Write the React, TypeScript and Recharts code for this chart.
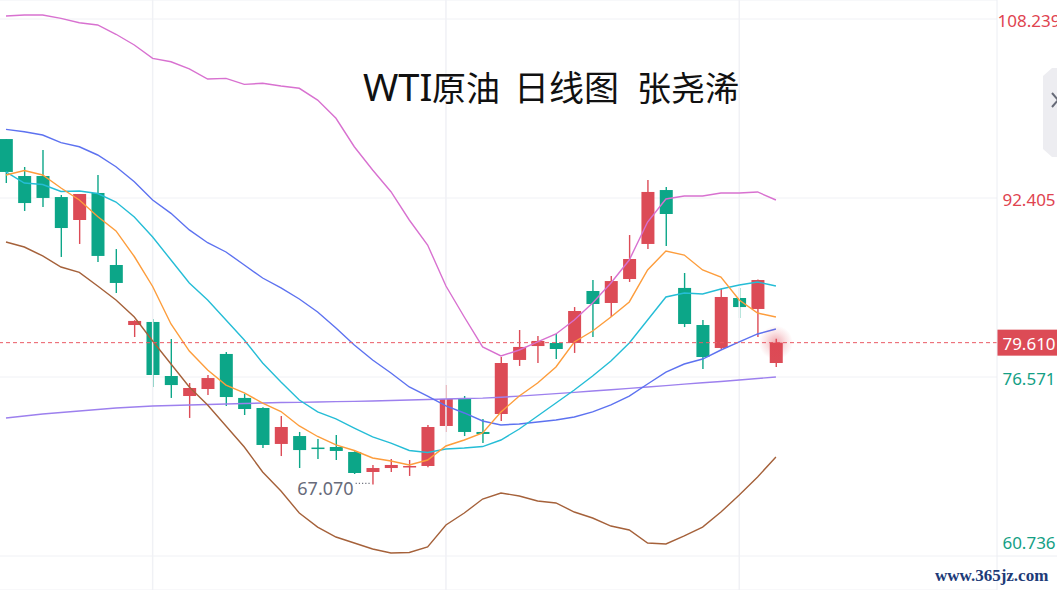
import React from 'react';
import {
  ComposedChart,
  Bar,
  Line,
  XAxis,
  YAxis,
  CartesianGrid,
  ReferenceLine,
  ReferenceDot,
} from 'recharts';

// ---- data ----
const days = [0, 1, 2, 3, 4, 5, 6, 7, 8, 9, 10, 11, 12, 13, 14, 15, 16, 17, 18, 19, 20, 21, 22, 23, 24, 25, 26, 27, 28, 29, 30, 31, 32, 33, 34, 35, 36, 37, 38, 39, 40, 41, 42];

const opens = [97.62, 94.35, 94.35, 92.49, 90.46, 92.85, 86.48, 81.17, 81.44, 76.66, 74.89, 75.51, 78.61, 74.72, 73.83, 70.65, 71.35, 70.33, 70.38, 69.94, 68.17, 68.52, 68.61, 68.7, 72.24, 74.63, 71.71, 73.3, 78.08, 79.31, 79.58, 79.58, 84.18, 83.12, 85.24, 88.34, 93.11, 84.45, 81.17, 79.14, 83.56, 82.59, 77.81];
const highs = [97.62, 95.15, 96.65, 92.67, 92.76, 94.44, 87.89, 81.6, 81.7, 79.93, 76.04, 76.75, 78.78, 75.07, 73.9, 73.12, 71.71, 71.09, 71.44, 70.0, 68.79, 69.32, 69.23, 72.33, 75.86, 74.89, 72.86, 78.34, 80.73, 80.2, 80.38, 82.76, 85.15, 85.51, 89.13, 94.0, 93.38, 85.77, 81.61, 84.36, 84.45, 85.2, 79.95];
const lows = [93.73, 91.26, 91.61, 87.19, 88.34, 86.74, 84.0, 80.11, 75.69, 74.72, 72.95, 74.98, 74.01, 73.21, 70.29, 69.58, 68.52, 69.32, 69.23, 67.99, 67.07, 68.17, 67.82, 68.6, 71.71, 71.35, 70.73, 72.68, 77.55, 77.81, 78.16, 78.7, 80.11, 81.88, 84.98, 87.89, 88.16, 80.99, 77.28, 79.05, 81.79, 80.11, 77.46];
const closes = [94.71, 91.96, 92.41, 89.75, 92.76, 87.28, 84.89, 81.53, 76.75, 75.86, 75.6, 76.48, 74.8, 73.74, 70.56, 72.15, 70.11, 70.25, 70.03, 68.08, 68.52, 68.79, 68.7, 72.15, 74.63, 71.71, 71.53, 77.81, 79.23, 79.76, 79.05, 82.41, 83.03, 85.06, 87.01, 92.94, 90.99, 81.26, 78.34, 83.65, 82.76, 85.15, 79.61];

const ma5 = [94.44, 94.84, 94.44, 93.29, 92.23, 90.77, 89.49, 87.23, 84.58, 81.26, 78.87, 77.19, 75.86, 75.16, 74.27, 73.52, 72.24, 71.31, 70.56, 70.07, 69.41, 69.14, 68.79, 69.23, 70.47, 71.0, 71.62, 73.48, 74.89, 76.04, 77.46, 79.67, 80.64, 81.88, 83.21, 86.04, 87.72, 87.36, 86.04, 85.42, 83.38, 82.23, 81.88];
const ma10 = [94.71, 93.73, 93.6, 92.98, 93.03, 92.8, 92.05, 90.73, 88.96, 86.92, 84.89, 83.38, 81.61, 79.85, 77.81, 76.13, 74.54, 73.48, 72.86, 72.06, 71.27, 70.73, 70.07, 69.89, 70.2, 70.29, 70.42, 71.0, 71.97, 73.12, 74.27, 75.42, 76.66, 77.99, 79.58, 81.61, 83.65, 84.0, 83.91, 84.36, 84.71, 84.98, 84.62];
const bollMid = [98.48, 98.27, 97.98, 97.3, 96.94, 96.21, 95.17, 93.85, 92.23, 91.05, 89.58, 88.45, 87.63, 86.48, 85.33, 84.45, 83.47, 82.32, 80.91, 79.4, 78.08, 76.93, 75.69, 74.89, 74.01, 73.39, 72.68, 72.33, 72.42, 72.59, 72.77, 73.03, 73.48, 74.1, 74.89, 75.95, 77.01, 77.72, 78.16, 78.96, 79.67, 80.38, 80.82];
const bollUp = [108.5, 108.59, 108.59, 108.3, 107.91, 107.71, 106.89, 105.94, 104.76, 104.46, 103.82, 102.93, 102.99, 102.46, 102.55, 102.31, 102.11, 101.07, 99.46, 96.94, 94.88, 92.96, 90.46, 88.25, 84.62, 81.88, 79.23, 78.43, 78.96, 79.67, 80.38, 81.61, 83.12, 84.89, 86.92, 90.28, 92.32, 92.58, 92.58, 92.85, 92.85, 92.94, 92.23];
const bollDn = [88.51, 88.07, 87.28, 86.3, 85.82, 84.62, 83.38, 81.88, 79.76, 77.72, 75.69, 74.1, 72.24, 70.38, 68.17, 66.49, 64.54, 63.3, 62.42, 61.89, 61.36, 61.0, 61.05, 61.54, 63.48, 64.54, 65.78, 66.31, 66.05, 65.6, 65.43, 64.63, 64.1, 63.39, 63.04, 61.89, 61.8, 62.51, 63.3, 64.63, 66.13, 67.73, 69.5];
const maLong = [72.95, 73.12, 73.3, 73.43, 73.56, 73.7, 73.83, 73.92, 74.01, 74.05, 74.1, 74.14, 74.19, 74.23, 74.27, 74.31, 74.33, 74.36, 74.39, 74.42, 74.45, 74.49, 74.54, 74.58, 74.63, 74.67, 74.7, 74.78, 74.88, 74.99, 75.1, 75.21, 75.33, 75.45, 75.57, 75.69, 75.81, 75.94, 76.06, 76.18, 76.31, 76.44, 76.57];

const priceTicks = [60.736, 76.571, 92.405, 108.239];
const tickColors = ['#14a085', '#14a085', '#e0434f', '#e0434f'];
const monthLines = [8, 24, 40];
const lastPrice = 79.61;
const lastIndex = 42;
const lowPrice = 67.07;
const lowIndex = 20;

const rows = days.map((d, k) => ({
  i: d,
  open: opens[k],
  high: highs[k],
  low: lows[k],
  close: closes[k],
  ma5: ma5[k],
  ma10: ma10[k],
  mid: bollMid[k],
  up: bollUp[k],
  dn: bollDn[k],
  maLong: maLong[k],
}));

const RED = '#dc4b56';
const TEAL = '#0ca688';
const GRID = '#f0f1f5';

const Candle = (props: any) => {
  const { x, y, width, height, payload } = props;
  if (x == null || y == null || !payload) return null;
  const { open, close, high, low } = payload;
  const top = Math.min(y, y + height);
  const h = Math.abs(height);
  const ppu = high - low > 0 ? h / (high - low) : 0;
  const yOf = (v: number) => top + (high - v) * ppu;
  const up = close >= open;
  const color = up ? RED : TEAL;
  const cx = x + width / 2;
  const bTop = yOf(Math.max(open, close));
  const bBot = yOf(Math.min(open, close));
  const bh = Math.max(bBot - bTop, 1.5);
  return (
    <g>
      <line x1={cx} x2={cx} y1={yOf(high)} y2={yOf(low)} stroke={color} strokeWidth={1.4} />
      <rect x={x} y={bTop} width={width} height={bh} fill={color} />
    </g>
  );
};

const YTick = (props: any) => {
  const { x, y, payload } = props;
  const v = payload.value;
  const k = priceTicks.indexOf(v);
  const isBottom = k === 0;
  return (
    <g>
      <text
        x={x + 32}
        y={y + (isBottom ? -14 : 1.5)}
        textAnchor="middle"
        dominantBaseline="central"
        fontSize={17}
        fontFamily="'Noto Sans', sans-serif"
        fill={tickColors[k] || '#e0434f'}
      >
        {v.toFixed(3)}
      </text>
      {isBottom && <line x1={x} x2={x + 62} y1={y} y2={y} stroke="#eceef3" strokeWidth={1} />}
    </g>
  );
};

const PriceLabel = (props: any) => {
  const vb = props.viewBox || {};
  const x0 = (vb.x || 0) + (vb.width || 0);
  const y0 = vb.y || 0;
  return (
    <g>
      <rect x={x0} y={y0 - 13} width={62} height={26} fill="#dc4b56" />
      <text
        x={x0 + 32}
        y={y0 + 1}
        textAnchor="middle"
        dominantBaseline="central"
        fontSize={17}
        fontFamily="'Noto Sans', sans-serif"
        fill="#ffffff"
      >
        {lastPrice.toFixed(3)}
      </text>
    </g>
  );
};

const Glow = (props: any) => {
  const { cx, cy } = props;
  if (cx == null || cy == null) return null;
  return (
    <g>
      <defs>
        <radialGradient id="glowGrad">
          <stop offset="0%" stopColor="#e04452" stopOpacity={0.45} />
          <stop offset="60%" stopColor="#e04452" stopOpacity={0.15} />
          <stop offset="100%" stopColor="#e04452" stopOpacity={0} />
        </radialGradient>
      </defs>
      <circle cx={cx} cy={cy} r={17} fill="url(#glowGrad)" />
    </g>
  );
};

const LowMark = (props: any) => {
  const { cx, cy } = props;
  if (cx == null || cy == null) return null;
  return (
    <g>
      <line x1={cx - 17} x2={cx - 3} y1={cy - 1} y2={cy - 1} stroke="#70737f" strokeWidth={1.2} strokeDasharray="1.2 2" />
      <text
        x={cx - 19}
        y={cy + 4}
        textAnchor="end"
        dominantBaseline="central"
        fontSize={18}
        fontFamily="'Noto Sans', sans-serif"
        fill="#676b7a"
      >
        {lowPrice.toFixed(3)}
      </text>
    </g>
  );
};

const lineProps = {
  type: 'linear' as const,
  strokeWidth: 1.4,
  dot: false,
  activeDot: false,
  isAnimationActive: false,
};

export default function App() {
  return (
    <div style={{ position: 'absolute', left: 0, top: 0, width: 1057, height: 590, background: '#ffffff', overflow: 'hidden' }}>
      <ComposedChart width={1057} height={590} data={rows} margin={{ top: 0, right: 0, bottom: 0, left: 0 }}>
        <CartesianGrid vertical={false} stroke={GRID} strokeWidth={1} />
        <XAxis type="number" dataKey="i" domain={[-0.327, 54.06]} allowDataOverflow hide />
        <YAxis
          orientation="right"
          width={60}
          domain={[57.731, 109.92]}
          allowDataOverflow
          ticks={priceTicks}
          interval={0}
          tick={<YTick />}
          tickLine={false}
          tickSize={0}
          tickMargin={0}
          axisLine={{ stroke: '#eceef3' }}
        />
        {monthLines.map((m) => (
          <ReferenceLine key={m} x={m} stroke={GRID} strokeWidth={1.5} />
        ))}
        <Bar dataKey={(d: any) => [d.low, d.high]} barSize={13} shape={<Candle />} isAnimationActive={false} />
        <Line {...lineProps} dataKey="maLong" stroke="#9d80ee" />
        <Line {...lineProps} dataKey="up" stroke="#d871d0" />
        <Line {...lineProps} dataKey="dn" stroke="#a5613a" />
        <Line {...lineProps} dataKey="mid" stroke="#5d72f0" />
        <Line {...lineProps} dataKey="ma10" stroke="#25bdd6" />
        <Line {...lineProps} dataKey="ma5" stroke="#fd9d3c" />
        <ReferenceLine y={lastPrice} stroke="#ea5a64" strokeDasharray="4 3" strokeWidth={1} label={<PriceLabel />} />
        <ReferenceDot x={lastIndex} y={lastPrice} r={17} shape={(p: any) => <Glow {...p} />} />
        <ReferenceDot x={lowIndex} y={lowPrice} r={1} shape={(p: any) => <LowMark {...p} />} />
      </ComposedChart>
      <svg width={1057} height={590} style={{ position: 'absolute', left: 0, top: 0, pointerEvents: 'none' }}>
        <text y={101} fill="#111111" fontFamily="'Noto Sans CJK SC', 'Noto Sans', sans-serif">
          <tspan x={363} fontSize={38} fontFamily="'Noto Sans', sans-serif">WTI</tspan>
          <tspan x={432} fontSize={34}>原油</tspan>
          <tspan x={514} fontSize={35}>日线图</tspan>
          <tspan x={637} fontSize={34}>张尧浠</tspan>
        </text>
        <path d="M1043,76 L1052,68 L1060,68 L1060,157 L1052,157 L1043,149 Z" fill="#ededf1" />
        <path d="M1052,93 L1058,100 L1052,107" fill="none" stroke="#676b78" strokeWidth={2} />
        <text x={935} y={581} fontSize={17} fontWeight="bold" fontFamily="'Liberation Serif', 'DejaVu Serif', serif" fill="#1d3b78">
          www.365jz.com
        </text>
      </svg>
    </div>
  );
}
